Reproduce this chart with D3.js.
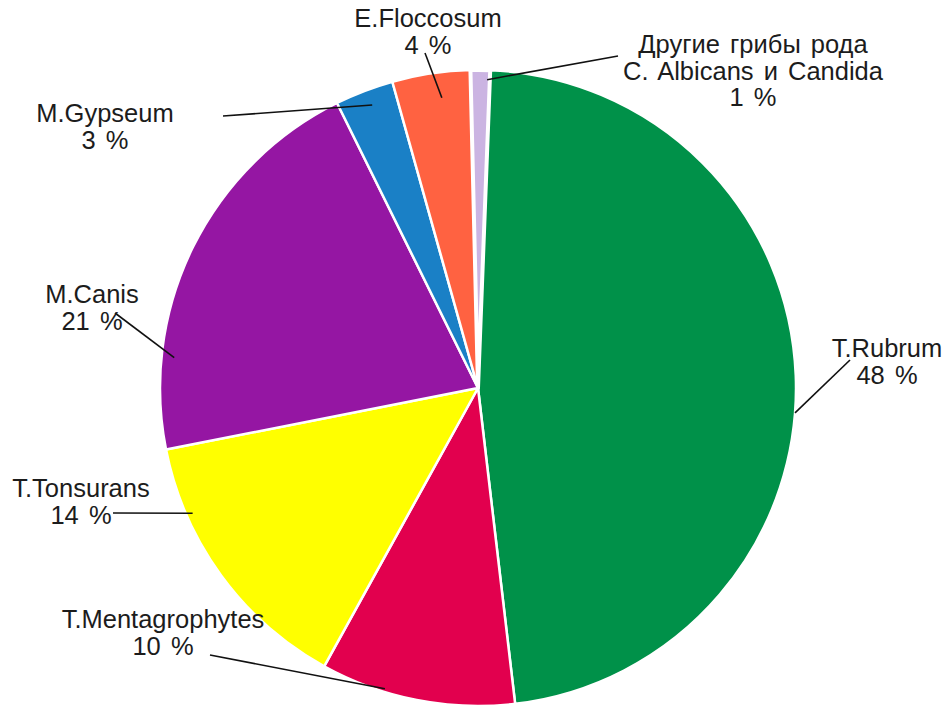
<!DOCTYPE html>
<html>
<head>
<meta charset="utf-8">
<script src="https://cdn.jsdelivr.net/npm/d3@7"></script>
<style>
  html, body { margin: 0; padding: 0; background: #fff; }
  svg { display: block; }
  text { font-family: "Liberation Sans", Arial, Helvetica, sans-serif; fill: #1c1c1c; }
</style>
</head>
<body>
<svg id="chart" width="947" height="708"></svg>
<script>
// Species of dermatophytes and their shares, clockwise from the top
const species = ["T.Rubrum", "T.Mentagrophytes", "T.Tonsurans", "M.Canis", "M.Gypseum", "E.Floccosum", "Другие грибы рода|C. Albicans и Candida"];
const shares = [48, 10, 14, 21, 3, 4, 1];
const colours = ["#009149", "#e2004e", "#ffff00", "#9516a3", "#1a80c6", "#ff6241", "#cbb4e2"];

// Label placement: text centre/baseline, outer end of the leader line,
// and where the leader touches the pie (angle in degrees, fraction of radius)
const labelLayout = [
  { x: 887, y: 357, lx: 850, ly: 360, ang: 94.5, rf: 1.0 },
  { x: 163, y: 628, lx: 210, ly: 655, ang: 197.2, rf: 0.99 },
  { x: 81,  y: 497, lx: 113, ly: 513, ang: 246.3, rf: 0.98 },
  { x: 92,  y: 303, lx: 115, ly: 313, ang: 275.7, rf: 0.96 },
  { x: 105, y: 122, lx: 223, ly: 116, ang: 339.5, rf: 0.95 },
  { x: 428, y: 27,  lx: 425, ly: 53,  ang: 352.9, rf: 0.92 },
  { x: 753, y: 53,  lx: 618, ly: 56,  ang: 1.7,   rf: 0.97 }
];

const cx = 478, cy = 388, radius = 318;
const rotation = 2.2 * Math.PI / 180;
const lineGap = 26.5;

const svg = d3.select("#chart");
const g = svg.append("g").attr("transform", `translate(${cx},${cy})`);

const pie = d3.pie().sort(null).value(d => d)
  .startAngle(rotation).endAngle(rotation + 2 * Math.PI);
const arc = d3.arc().innerRadius(0).outerRadius(radius);

g.selectAll("path.slice")
  .data(pie(shares))
  .join("path")
  .attr("class", "slice")
  .attr("d", arc)
  .attr("fill", (d, i) => colours[i])
  .attr("stroke", "#ffffff")
  .attr("stroke-width", (d, i) => i === shares.length - 1 ? 4 : 2.5)
  .attr("stroke-linejoin", "round");

// Leader lines
const toXY = (deg, rf) => {
  const a = deg * Math.PI / 180;
  return [cx + Math.sin(a) * radius * rf, cy - Math.cos(a) * radius * rf];
};

svg.selectAll("line.leader")
  .data(labelLayout)
  .join("line")
  .attr("class", "leader")
  .attr("x1", d => d.lx)
  .attr("y1", d => d.ly)
  .attr("x2", d => toXY(d.ang, d.rf)[0])
  .attr("y2", d => toXY(d.ang, d.rf)[1])
  .attr("stroke", "#111")
  .attr("stroke-width", 1.6);

// Labels: name lines followed by the percentage
const labels = svg.selectAll("text.label")
  .data(species.map((s, i) => ({ lines: s.split("|").concat([shares[i] + " %"]), pos: labelLayout[i] })))
  .join("text")
  .attr("class", "label")
  .attr("text-anchor", "middle")
  .attr("font-size", 25.5)
  .attr("word-spacing", 3);

labels.each(function (d) {
  d3.select(this).selectAll("tspan")
    .data(d.lines)
    .join("tspan")
    .attr("x", d.pos.x)
    .attr("y", (t, j) => d.pos.y + j * lineGap)
    .text(t => t);
});
</script>
</body>
</html>
